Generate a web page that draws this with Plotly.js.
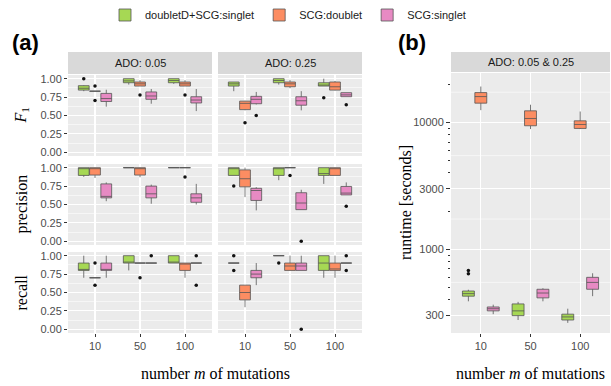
<!DOCTYPE html>
<html><head><meta charset="utf-8">
<script src="https://cdn.plot.ly/plotly-3.0.1.min.js"></script>
<style>html,body{margin:0;padding:0;background:#fff}#chart{width:611px;height:386px}</style>
</head><body><div id="chart"></div>
<script>
// ---------- data ----------
const mutations = ['10', '50', '100'];
const methods = ['doubletD+SCG:singlet', 'SCG:doublet', 'SCG:singlet'];
const adoLabels = ['ADO: 0.05', 'ADO: 0.25'];
const runtimeStripLabel = 'ADO: 0.05 & 0.25';
const rowTitles = ['<i>F</i><sub>1</sub>', 'precision', 'recall'];
const metricTicks = [0, 0.25, 0.5, 0.75, 1];
const metricTickText = ['0.00', '0.25', '0.50', '0.75', '1.00'];
const runtimeTicks = [300, 1000, 3000, 10000];
const runtimeTickText = ['300', '1000', '3000', '10000'];
const runtimeLogTicks = [200, 300, 400, 500, 600, 700, 800, 900, 2000, 3000, 4000, 5000, 6000, 7000, 8000, 9000, 20000];
const runtimeMinorGrid = [548, 1732, 5477, 17320];

// each entry: [lower whisker, q1, median, q3, upper whisker, [outliers]] for m = 10, 50, 100
// F1, ADO 0.05
const f1_a05_doubletD = [[0.83, 0.845, 0.87, 0.905, 0.91, [1.0]], [0.92, 0.945, 0.97, 1.0, 1.0, []], [0.93, 0.945, 0.975, 1.0, 1.0, []]];
const f1_a05_scgDoublet = [[0.83, 0.83, 0.83, 0.83, 0.83, [0.90, 0.705]], [0.90, 0.90, 0.93, 0.955, 0.98, [0.78]], [0.90, 0.90, 0.93, 0.955, 0.98, [0.78]]];
const f1_a05_scgSinglet = [[0.62, 0.69, 0.73, 0.80, 0.85, []], [0.66, 0.72, 0.765, 0.82, 0.86, []], [0.56, 0.67, 0.71, 0.755, 0.86, []]];
// F1, ADO 0.25
const f1_a25_doubletD = [[0.83, 0.90, 0.93, 0.955, 0.955, []], [0.92, 0.945, 0.975, 1.0, 1.0, []], [0.90, 0.90, 0.91, 0.945, 1.0, [0.74]]];
const f1_a25_scgDoublet = [[0.57, 0.58, 0.665, 0.695, 0.70, [0.40]], [0.87, 0.89, 0.93, 0.955, 0.985, []], [0.84, 0.845, 0.89, 0.955, 0.97, []]];
const f1_a25_scgSinglet = [[0.65, 0.66, 0.72, 0.76, 0.82, [0.50]], [0.57, 0.64, 0.70, 0.755, 0.83, []], [0.755, 0.755, 0.78, 0.81, 0.81, [0.645]]];
// precision, ADO 0.05
const pr_a05_doubletD = [[0.875, 0.895, 1.0, 1.0, 1.0, []], [1.0, 1.0, 1.0, 1.0, 1.0, []], [1.0, 1.0, 1.0, 1.0, 1.0, []]];
const pr_a05_scgDoublet = [[0.86, 0.90, 1.0, 1.0, 1.0, []], [0.87, 0.90, 1.0, 1.0, 1.0, []], [1.0, 1.0, 1.0, 1.0, 1.0, [0.875]]];
const pr_a05_scgSinglet = [[0.545, 0.59, 0.61, 0.78, 0.80, []], [0.51, 0.59, 0.645, 0.75, 0.77, []], [0.50, 0.53, 0.59, 0.645, 0.78, []]];
// precision, ADO 0.25
const pr_a25_doubletD = [[0.895, 0.895, 1.0, 1.0, 1.0, [0.75]], [0.83, 0.895, 1.0, 1.0, 1.0, []], [0.78, 0.895, 0.92, 1.0, 1.0, []]];
const pr_a25_scgDoublet = [[0.60, 0.74, 0.85, 0.97, 1.0, []], [1.0, 1.0, 1.0, 1.0, 1.0, [0.895]], [0.895, 0.895, 1.0, 1.0, 1.0, []]];
const pr_a25_scgSinglet = [[0.42, 0.555, 0.69, 0.72, 0.735, []], [0.43, 0.43, 0.52, 0.66, 0.70, [0.0]], [0.63, 0.63, 0.655, 0.745, 0.80, [0.477]]];
// recall, ADO 0.05
const rc_a05_doubletD = [[0.70, 0.80, 0.80, 0.90, 1.0, []], [0.80, 0.90, 0.90, 1.0, 1.0, []], [0.90, 0.90, 0.90, 1.0, 1.0, []]];
const rc_a05_scgDoublet = [[0.70, 0.70, 0.70, 0.70, 0.70, [0.90, 0.60]], [0.90, 0.90, 0.90, 0.90, 0.90, [0.70]], [0.70, 0.80, 0.90, 0.90, 0.90, []]];
const rc_a05_scgSinglet = [[0.70, 0.80, 0.80, 0.90, 1.0, []], [0.90, 0.90, 0.90, 0.90, 0.90, [1.0]], [0.90, 0.90, 0.90, 0.90, 0.90, [1.0, 0.60]]];
// recall, ADO 0.25
const rc_a25_doubletD = [[0.90, 0.90, 0.90, 0.90, 0.90, [1.0, 0.80]], [1.0, 1.0, 1.0, 1.0, 1.0, [0.90]], [0.70, 0.80, 0.90, 1.0, 1.0, []]];
const rc_a25_scgDoublet = [[0.30, 0.40, 0.50, 0.60, 0.60, []], [0.80, 0.80, 0.86, 0.90, 1.0, []], [0.70, 0.80, 0.82, 0.90, 1.0, []]];
const rc_a25_scgSinglet = [[0.60, 0.70, 0.75, 0.80, 0.90, []], [0.80, 0.80, 0.86, 0.90, 1.0, [0.0]], [0.90, 0.90, 0.90, 0.90, 0.90, [1.0, 0.80]]];
// runtime [seconds], ADO 0.05 & 0.25
const rt_doubletD = [[389, 427, 447, 469, 480, [640, 681]], [277, 300, 327, 371, 385, []], [263, 277, 293, 308, 340, []]];
const rt_scgDoublet = [[12500, 14200, 16000, 17200, 19200, []], [8870, 9420, 10750, 12350, 13800, []], [8870, 8970, 9640, 10300, 12200, []]];
const rt_scgSinglet = [[308, 327, 340, 351, 366, []], [389, 414, 452, 484, 493, []], [427, 484, 548, 601, 647, []]];

// ---------- styling ----------
const boxColors = ['#A6D854', '#FC8D62', '#E78AC3'];
const offsets = [-0.25, 0, 0.25];
const W = 611, H = 386;
const px = (a, b) => [a / W, b / W];
const py = (top, bot) => [1 - bot / H, 1 - top / H];
const colX = [[68, 212], [218, 362]];
const rowY = [[75, 156], [164, 245], [252, 333]];
const bX = [451, 610], bY = [73, 333];
const tickFont = {family: 'Liberation Sans, Arial, sans-serif', size: 11, color: '#4D4D4D'};
const serif = {family: 'Liberation Serif, Times New Roman, serif', size: 16, color: '#000'};

const panels = [
  [f1_a05_doubletD, f1_a05_scgDoublet, f1_a05_scgSinglet],
  [f1_a25_doubletD, f1_a25_scgDoublet, f1_a25_scgSinglet],
  [pr_a05_doubletD, pr_a05_scgDoublet, pr_a05_scgSinglet],
  [pr_a25_doubletD, pr_a25_scgDoublet, pr_a25_scgSinglet],
  [rc_a05_doubletD, rc_a05_scgDoublet, rc_a05_scgSinglet],
  [rc_a25_doubletD, rc_a25_scgDoublet, rc_a25_scgSinglet],
  [rt_doubletD, rt_scgDoublet, rt_scgSinglet]
];

const boxTraces = [], pointTraces = [];
const layout = {
  width: W, height: H, margin: {l: 0, r: 0, t: 0, b: 0},
  paper_bgcolor: '#fff', plot_bgcolor: '#EBEBEB',
  showlegend: true,
  legend: {orientation: 'h', x: 288 / W, xanchor: 'center', y: 1 - 15 / H, yanchor: 'middle',
           font: {family: 'Liberation Sans, Arial, sans-serif', size: 11, color: '#1A1A1A'},
           bgcolor: 'rgba(0,0,0,0)', itemwidth: 30, tracegroupgap: 0, traceorder: 'normal'},
  shapes: [], annotations: []
};

panels.forEach((groups, i) => {
  const id = i + 1;
  const sfx = id === 1 ? '' : String(id);
  const isB = i === 6;
  const row = Math.floor(i / 2), col = i % 2;
  const bottom = isB || row === 2;
  const left = isB || col === 0;
  layout['xaxis' + sfx] = {
    domain: isB ? px(bX[0], bX[1]) : px(colX[col][0], colX[col][1]),
    anchor: 'y' + sfx, range: [0.4, 3.6], tickvals: [1, 2, 3], ticktext: mutations,
    showticklabels: bottom, ticks: bottom ? 'outside' : '', ticklen: 3, tickcolor: '#333', tickwidth: 1,
    showgrid: true, gridcolor: '#FFFFFF', gridwidth: 1.1, zeroline: false, showline: false,
    tickfont: tickFont, fixedrange: true
  };
  if (isB) {
    layout['yaxis' + sfx] = {
      domain: py(bY[0], bY[1]), anchor: 'x' + sfx, type: 'log', range: [2.34, 4.39],
      tickvals: runtimeTicks, ticktext: runtimeTickText, ticks: 'outside', ticklen: 4, tickcolor: '#333', tickwidth: 1,
      showgrid: true, gridcolor: '#FFFFFF', gridwidth: 1.1, zeroline: false, showline: false, tickfont: tickFont,
      minor: {tickvals: runtimeLogTicks, ticks: 'outside', ticklen: 2, tickcolor: '#333', tickwidth: 1, showgrid: false}
    };
    runtimeMinorGrid.forEach(v => layout.shapes.push({
      type: 'line', xref: 'x7 domain', x0: 0, x1: 1, yref: 'y7', y0: v, y1: v,
      line: {color: '#FFFFFF', width: 0.55}, layer: 'below'
    }));
  } else {
    layout['yaxis' + sfx] = {
      domain: py(rowY[row][0], rowY[row][1]), anchor: 'x' + sfx, range: [-0.05, 1.05],
      tickvals: metricTicks, ticktext: metricTickText, showticklabels: left,
      ticks: left ? 'outside' : '', ticklen: 3, tickcolor: '#333', tickwidth: 1,
      showgrid: true, gridcolor: '#FFFFFF', gridwidth: 1.1, zeroline: false, showline: false, tickfont: tickFont,
      minor: {tickvals: [0.125, 0.375, 0.625, 0.875], showgrid: true, gridcolor: '#FFFFFF', gridwidth: 0.55, ticks: ''}
    };
  }
  groups.forEach((stats, g) => {
    const xs = [1, 2, 3].map(v => v + offsets[g]);
    boxTraces.push({
      type: 'box', xaxis: 'x' + sfx, yaxis: 'y' + sfx, name: methods[g],
      legendgroup: methods[g], showlegend: isB, legendrank: g + 1,
      x: xs,
      lowerfence: stats.map(s => s[0]), q1: stats.map(s => s[1]), median: stats.map(s => s[2]),
      q3: stats.map(s => s[3]), upperfence: stats.map(s => s[4]),
      width: 0.24, whiskerwidth: 0, boxpoints: false,
      fillcolor: boxColors[g], line: {color: '#555555', width: 0.8}, hoverinfo: 'skip'
    });
    const ox = [], oy = [];
    stats.forEach((s, k) => s[5].forEach(v => { ox.push(xs[k]); oy.push(v); }));
    if (ox.length) pointTraces.push({
      type: 'scatter', mode: 'markers', xaxis: 'x' + sfx, yaxis: 'y' + sfx, x: ox, y: oy,
      marker: {color: '#111', size: 3.5}, showlegend: false, hoverinfo: 'skip'
    });
  });
});

// strips
const strips = [
  {x: colX[0], y: [52, 74], t: adoLabels[0]},
  {x: colX[1], y: [52, 74], t: adoLabels[1]},
  {x: bX, y: [52, 72], t: runtimeStripLabel}
];
strips.forEach(s => {
  layout.shapes.push({type: 'rect', xref: 'paper', yref: 'paper', x0: s.x[0] / W, x1: s.x[1] / W,
    y0: 1 - s.y[1] / H, y1: 1 - s.y[0] / H, fillcolor: '#D9D9D9', line: {width: 0}});
  layout.annotations.push({xref: 'paper', yref: 'paper', x: (s.x[0] + s.x[1]) / 2 / W, y: 1 - (s.y[0] + s.y[1]) / 2 / H,
    text: s.t, showarrow: false, xanchor: 'center', yanchor: 'middle',
    font: {family: 'Liberation Sans, Arial, sans-serif', size: 11, color: '#1A1A1A'}});
});

// titles
const ann = (x, y, text, font, angle) => layout.annotations.push({xref: 'paper', yref: 'paper', x: x / W, y: 1 - y / H,
  text, font, textangle: angle || 0, showarrow: false, xanchor: 'center', yanchor: 'middle'});
rowTitles.forEach((t, r) => ann(21, (rowY[r][0] + rowY[r][1]) / 2, t, serif, -90));
ann(405, (bY[0] + bY[1]) / 2, 'runtime [seconds]', serif, -90);
ann((colX[0][0] + colX[1][1]) / 2, 373, 'number <i>m</i> of mutations', serif);
ann((bX[0] + bX[1]) / 2, 373, 'number <i>m</i> of mutations', serif);
const bold = {family: 'Liberation Sans, Arial, sans-serif', size: 22, color: '#000', weight: 'bold'};
ann(25, 43, '<b>(a)</b>', bold);
ann(412, 43, '<b>(b)</b>', bold);

Plotly.newPlot('chart', boxTraces.concat(pointTraces), layout, {staticPlot: true, displayModeBar: false});
</script>
</body></html>
